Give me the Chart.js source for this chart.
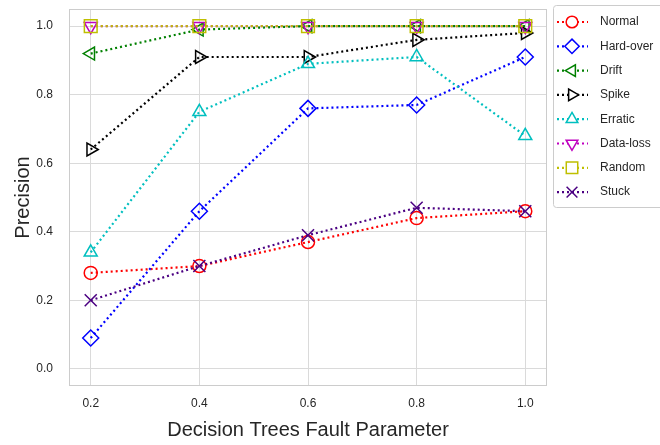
<!DOCTYPE html>
<html>
<head>
<meta charset="utf-8">
<script src="https://cdn.jsdelivr.net/npm/chart.js@4"></script>
<style>
  html, body { margin: 0; padding: 0; background: #fff; }
  #wrap { width: 660px; height: 445px; }
</style>
</head>
<body>
<div id="wrap"><canvas id="chart" width="660" height="445"></canvas></div>
<script>
"use strict";

// ---- data ----
const faultParams = [0.2, 0.4, 0.6, 0.8, 1.0];
const xTicks = [0.2, 0.4, 0.6, 0.8, 1.0];
const yTicks = [0.0, 0.2, 0.4, 0.6, 0.8, 1.0];

const normal   = [0.28, 0.30, 0.37, 0.44, 0.46];
const hardOver = [0.09, 0.46, 0.76, 0.77, 0.91];
const drift    = [0.92, 0.99, 1.00, 1.00, 1.00];
const spike    = [0.64, 0.91, 0.91, 0.96, 0.98];
const erratic  = [0.34, 0.75, 0.89, 0.91, 0.68];
const dataLoss = [1.00, 1.00, 1.00, 1.00, 1.00];
const random   = [1.00, 1.00, 1.00, 1.00, 1.00];
const stuck    = [0.20, 0.30, 0.39, 0.47, 0.46];

const FONT = "'Liberation Sans', Arial, sans-serif";
const TXT = "#262626";

/* series look: name, values, colour, marker */
const series = [
  { label: "Normal",    data: normal,   color: "#ff0000", style: "circle",   rot: 0,   r: 6.5 },
  { label: "Hard-over", data: hardOver, color: "#0000ff", style: "rectRot",  rot: 0,   r: 8 },
  { label: "Drift",     data: drift,    color: "#008000", style: "triangle", rot: 270, r: 7.5 },
  { label: "Spike",     data: spike,    color: "#000000", style: "triangle", rot: 90,  r: 7.5 },
  { label: "Erratic",   data: erratic,  color: "#00bfbf", style: "triangle", rot: 0,   r: 7.5 },
  { label: "Data-loss", data: dataLoss, color: "#bf00bf", style: "triangle", rot: 180, r: 7.5 },
  { label: "Random",    data: random,   color: "#bfbf00", style: "rect",     rot: 0,   r: 9 },
  { label: "Stuck",     data: stuck,    color: "#4b0082", style: "crossRot", rot: 0,   r: 8.5 },
];

const DASH = [2, 3];

const datasets = series.map((s, i) => ({
  label: s.label,
  data: faultParams.map((x, j) => ({ x, y: s.data[j] })),
  borderColor: s.color,
  backgroundColor: "rgba(0,0,0,0)",
  borderWidth: 2.2,
  borderDash: DASH,
  pointStyle: s.style,
  pointRotation: s.rot,
  pointRadius: s.r,
  pointBorderWidth: 1.5,
  pointBorderColor: s.color,
  pointBackgroundColor: "rgba(0,0,0,0)",
  fill: false,
  tension: 0,
  clip: false,
  order: series.length - i,   // later series drawn on top, like matplotlib
}));

/* ==========================================================
   little plugins: plot frame + boxed legend on the right
   ========================================================== */
const framePlugin = {
  id: "frame",
  beforeDatasetsDraw(chart) {
    const { ctx, chartArea: a } = chart;
    ctx.save();
    ctx.strokeStyle = "#cccccc";
    ctx.lineWidth = 1;
    ctx.strokeRect(a.left + 0.5, a.top + 0.5, a.right - a.left - 1, a.bottom - a.top - 1);
    ctx.restore();
  }
};

const legendPlugin = {
  id: "boxLegend",
  afterDraw(chart) {
    const { ctx } = chart;
    const x0 = 553, y0 = 5, w = 130, h = 202;
    ctx.save();
    ctx.fillStyle = "rgba(255,255,255,0.9)";
    ctx.strokeStyle = "#cccccc";
    ctx.lineWidth = 1;
    ctx.beginPath();
    ctx.roundRect(x0 + 0.5, y0 + 0.5, w, h, 3);
    ctx.fill();
    ctx.stroke();

    series.forEach((s, i) => {
      const y = 22 + i * 24.3;
      ctx.strokeStyle = s.color;
      ctx.lineWidth = 2.2;
      ctx.setLineDash(DASH);
      ctx.beginPath();
      ctx.moveTo(557, y);
      ctx.lineTo(588, y);
      ctx.stroke();
      ctx.setLineDash([]);
      ctx.lineWidth = 1.5;
      ctx.fillStyle = "#ffffff";
      Chart.helpers.drawPoint(ctx, {
        pointStyle: s.style, rotation: s.rot, radius: s.r * 0.9, borderWidth: 1.5
      }, 572, y);
      ctx.fillStyle = TXT;
      ctx.font = "12px " + FONT;
      ctx.textBaseline = "middle";
      ctx.fillText(s.label, 600, y);
    });
    ctx.restore();
  }
};

const ctxEl = document.getElementById("chart");
new Chart(ctxEl, {
  type: "line",
  data: { datasets },
  options: {
    responsive: false,
    animation: false,
    devicePixelRatio: 1,
    layout: { autoPadding: false, padding: { top: 9, right: 113, left: 0, bottom: 0 } },
    plugins: {
      legend: { display: false },
      tooltip: { enabled: false },
    },
    scales: {
      x: {
        type: "linear",
        min: 0.16, max: 1.04,
        afterBuildTicks: (sc) => { sc.ticks = xTicks.map(v => ({ value: v })); },
        afterFit: (sc) => {
          sc.height = 59;
          sc.paddingLeft = sc.paddingRight = sc.paddingTop = sc.paddingBottom = 0;
        },
        grid: { color: "#dadada", lineWidth: 1, drawTicks: false },
        border: { display: false },
        ticks: {
          padding: 10,
          color: TXT,
          font: { family: FONT, size: 12 },
          callback: (v) => Number(v).toFixed(1),
        },
        title: {
          display: true,
          text: "Decision Trees Fault Parameter",
          color: TXT,
          font: { family: FONT, size: 20 },
          padding: { top: 0, bottom: 3 },
        },
      },
      y: {
        type: "linear",
        min: -0.05, max: 1.05,
        afterBuildTicks: (sc) => { sc.ticks = yTicks.map(v => ({ value: v })); },
        afterFit: (sc) => {
          sc.width = 69;
          sc.paddingLeft = sc.paddingRight = sc.paddingTop = sc.paddingBottom = 0;
        },
        grid: { color: "#dadada", lineWidth: 1, drawTicks: false },
        border: { display: false },
        ticks: {
          padding: 16,
          color: TXT,
          font: { family: FONT, size: 12 },
          callback: (v) => Number(v).toFixed(1),
        },
        title: {
          display: true,
          text: "Precision",
          color: TXT,
          font: { family: FONT, size: 20 },
          padding: { top: 11, bottom: 0 },
        },
      },
    },
  },
  plugins: [framePlugin, legendPlugin],
});
</script>
</body>
</html>
